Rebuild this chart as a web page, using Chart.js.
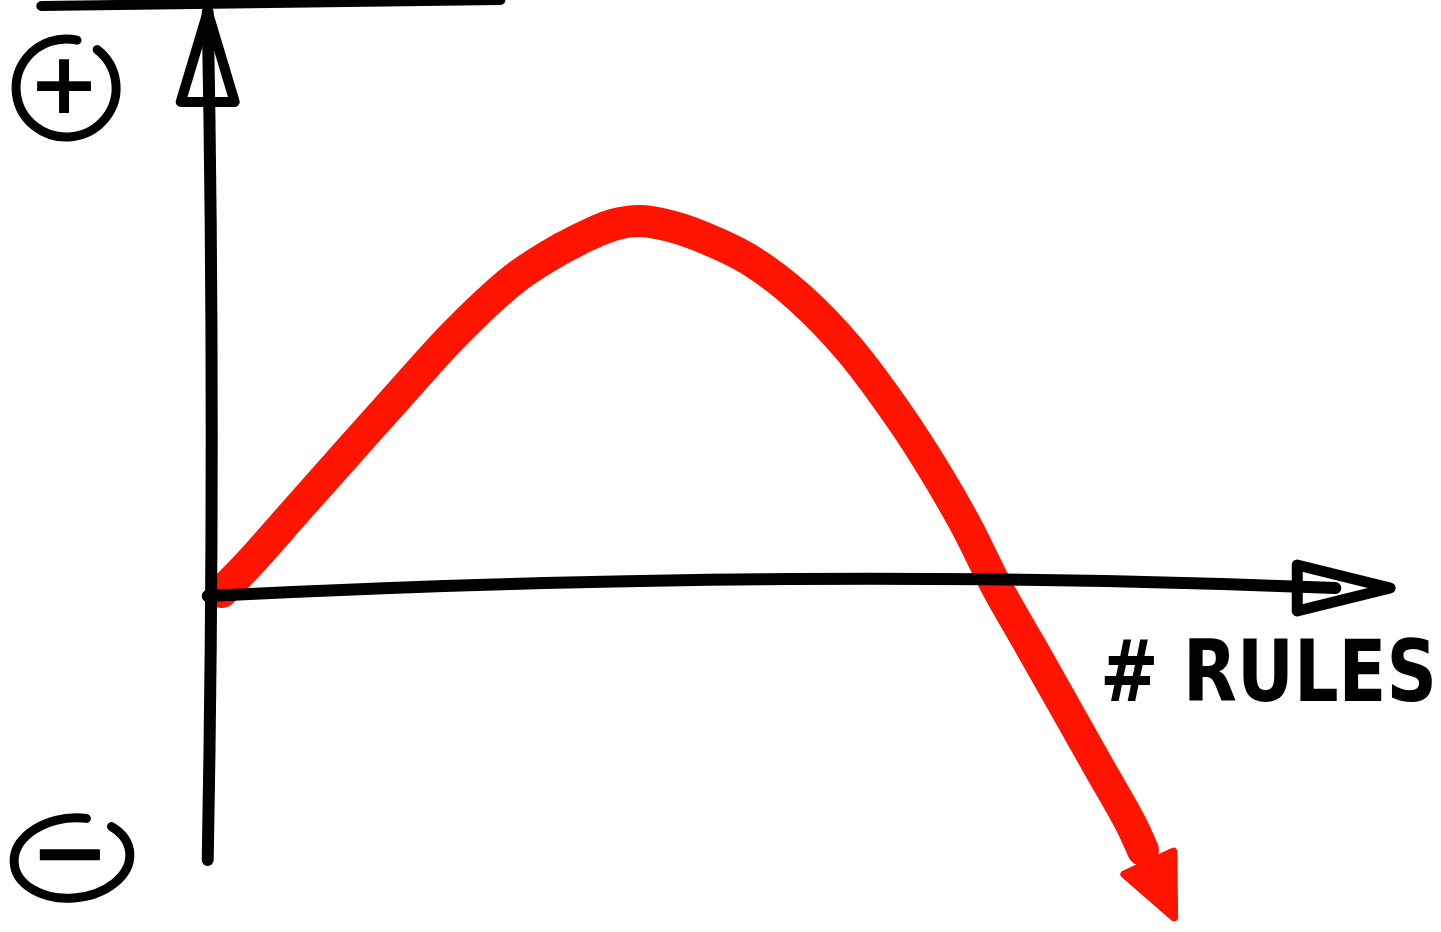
<!DOCTYPE html>
<html lang="en">

<head>
  <meta charset="UTF-8" />
  <title>Rules sketch</title>
  <script src="https://cdn.jsdelivr.net/npm/chart.js@4.4.1/dist/chart.umd.min.js"></script>
  <style>
    html, body { margin: 0; padding: 0; background: #fff; }
    .chart-wrapper { width: 1441px; height: 932px; position: relative; }
  </style>
</head>

<body>
  <div class="chart-wrapper">
    <canvas id="rules-graph"></canvas>
  </div>

<script>
  // values (x = number of rules, y = benefit)
  const ruleCounts = [1.2, 3.56, 7.54, 12.29, 15.85, 20.93, 25.85, 28.73, 31.53, 34.32, 36.61, 39.15, 41.69, 45.93, 50.17, 54.41, 58.64, 61.44, 64.32, 66.86, 69.66, 72.63, 75.59, 78.31, 79.24];
  const benefit = [-0.8, 5.0, 15.6, 28.2, 37.6, 50.8, 61.6, 66.2, 69.8, 72.6, 73.4, 72.4, 70.4, 65.6, 58, 47.6, 34.2, 24, 12.2, 0.2, -11.4, -23.8, -36.2, -47.6, -52.4];
  // where the red arrow points to
  const arrowTip = [82.03, -66.6];

  // axis extents
  const xAxisEnd = [0, 100.2];
  const yAxisEnd = [-54.4, 115.2];
  const xRange = [-17.6, 104.5];
  const yRange = [-68.8, 117.6];

  const axisLabel = '# RULES';
  const plusLabel = '+';
  const minusLabel = '\u2212';

  const RED = '#fe1400';
  const INK = '#000';

  function arrowHead(ctx, baseX, baseY, ux, uy, len, halfW) {
    ctx.beginPath();
    ctx.moveTo(baseX + ux * len, baseY + uy * len);
    ctx.lineTo(baseX - uy * halfW, baseY + ux * halfW);
    ctx.lineTo(baseX + uy * halfW, baseY - ux * halfW);
    ctx.closePath();
  }

  const sketchPlugin = {
    id: 'sketch',
    afterDatasetsDraw(chart) {
      const ctx = chart.ctx;
      const x = chart.scales.x, y = chart.scales.y;
      const x0 = x.getPixelForValue(0), y0 = y.getPixelForValue(0);

      ctx.save();
      ctx.lineCap = 'round';
      ctx.lineJoin = 'round';

      // red arrow head, from the end of the curve to the tip
      const pts = chart.getDatasetMeta(0).data;
      const b = pts[pts.length - 1];
      const tx = x.getPixelForValue(arrowTip[0]), ty = y.getPixelForValue(arrowTip[1]);
      let dx = tx - b.x, dy = ty - b.y;
      const d = Math.hypot(dx, dy);
      dx /= d; dy /= d;
      ctx.fillStyle = RED;
      ctx.strokeStyle = RED;
      ctx.lineWidth = 8;
      arrowHead(ctx, tx - dx * 64, ty - dy * 64, dx, dy, 60, 27);
      ctx.fill();
      ctx.stroke();

      // y axis
      ctx.strokeStyle = INK;
      ctx.lineWidth = 12;
      const yTop = y.getPixelForValue(yAxisEnd[1]);
      const yBot = y.getPixelForValue(yAxisEnd[0]);
      ctx.beginPath();
      ctx.moveTo(x0, yBot);
      ctx.quadraticCurveTo(x0 + 8, (yBot + yTop) / 2, x0, yTop);
      ctx.stroke();
      ctx.lineWidth = 10;
      arrowHead(ctx, x0, yTop + 90, 0, -1, 90, 27);
      ctx.stroke();

      // x axis, drawn with a slight hand sag
      const xEnd = x.getPixelForValue(xAxisEnd[1]);
      ctx.lineWidth = 12;
      ctx.beginPath();
      ctx.moveTo(x0, y0 + 8);
      ctx.quadraticCurveTo((x0 + xEnd) / 2, y0 - 22, xEnd - 55, y0);
      ctx.stroke();
      ctx.lineWidth = 11;
      arrowHead(ctx, xEnd - 93, y0, 1, 0, 93, 23);
      ctx.stroke();

      // stray stroke at the top edge
      ctx.lineWidth = 10;
      ctx.beginPath();
      ctx.moveTo(x.getPixelForValue(-14.1), 6);
      ctx.lineTo(x.getPixelForValue(24.8), 0);
      ctx.stroke();

      // circled plus / minus
      ctx.fillStyle = INK;
      ctx.textAlign = 'center';
      ctx.textBaseline = 'middle';
      const px = x.getPixelForValue(-12.0), py = y.getPixelForValue(100);
      ctx.lineWidth = 9;
      ctx.beginPath();
      ctx.ellipse(px, py, 50, 49, 0, -0.9, Math.PI * 2 - 1.35);
      ctx.stroke();
      ctx.font = 'bold 86px "DejaVu Sans"';
      ctx.fillText(plusLabel, px - 2, py + 3);

      const mx = x.getPixelForValue(-11.5), my = y.getPixelForValue(-54);
      ctx.beginPath();
      ctx.ellipse(mx, my, 58, 40, -0.1, -0.75, Math.PI * 2 - 1.25);
      ctx.stroke();
      ctx.font = 'bold 96px "DejaVu Sans"';
      ctx.fillText(minusLabel, mx - 2, my + 2);

      // axis title
      ctx.textAlign = 'left';
      ctx.textBaseline = 'alphabetic';
      ctx.font = 'bold 86px "DejaVu Sans"';
      ctx.fillText(axisLabel, x.getPixelForValue(75.6), y.getPixelForValue(-22.6), 337);

      ctx.restore();
    }
  };

  const myChart = new Chart(
    document.getElementById('rules-graph').getContext('2d'), {
      type: 'line',
      data: {
        datasets: [{
          label: 'benefit',
          data: ruleCounts.map((r, i) => ({ x: r, y: benefit[i] })),
          borderColor: RED,
          borderWidth: 32,
          borderCapStyle: 'round',
          borderJoinStyle: 'round',
          cubicInterpolationMode: 'monotone',
          pointRadius: 0,
          fill: false
        }]
      },
      options: {
        responsive: true,
        maintainAspectRatio: false,
        animation: false,
        layout: { padding: 0 },
        plugins: {
          legend: { display: false },
          tooltip: { enabled: false }
        },
        scales: {
          x: { type: 'linear', min: xRange[0], max: xRange[1], display: false },
          y: { type: 'linear', min: yRange[0], max: yRange[1], display: false }
        }
      },
      plugins: [sketchPlugin]
    });
</script>
</body>

</html>
